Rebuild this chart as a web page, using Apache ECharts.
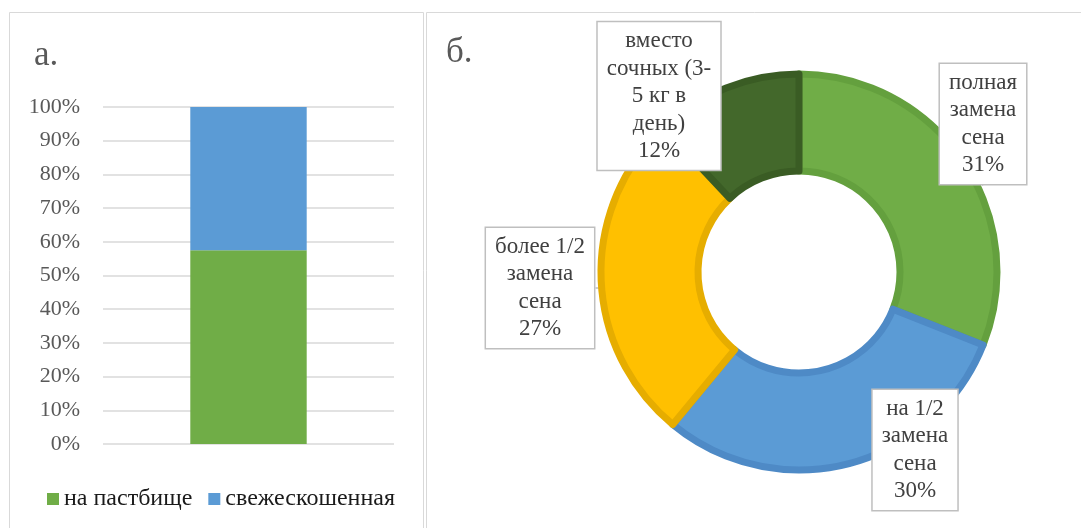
<!DOCTYPE html>
<html>
<head>
<meta charset="utf-8">
<script src="https://cdn.jsdelivr.net/npm/echarts@6/dist/echarts.min.js"></script>
<style>
  html, body { margin: 0; padding: 0; background: #fff; }
  #main { width: 1081px; height: 528px; }
</style>
</head>
<body>
<div id="main"></div>
<script>
// а. — где скашивают / пасут (100% столбец)
var barCategories = [''];
var pastureValues = [57.5];
var freshCutValues = [42.5];
var yTicks = { min: 0, max: 100, interval: 10 };

// б. — доля замены сена
var pieNames = [
  'полная\nзамена\nсена',
  'на 1/2\nзамена\nсена',
  'более 1/2\nзамена\nсена',
  'вместо\nсочных (3-\n5 кг в\nдень)'
];
var pieValues = [31, 30, 27, 12];

var serif = "'Liberation Serif', 'Times New Roman', serif";
var pieColors = ['#70AD47', '#5B9BD5', '#FFC000', '#43682B'];
var pieBorders = ['#64A03E', '#4E8AC6', '#E6AD00', '#3A5C24'];
// центры выносок меток (в пикселях)
var calloutPos = [[983, 124], [915, 450], [540, 288], [659, 96]];

var myChart = echarts.init(document.getElementById('main'));
var option = {
  animation: false,
  backgroundColor: '#fff',
  textStyle: { fontFamily: serif },
  graphic: [
    { type: 'rect', shape: { x: 9.5, y: 12.5, width: 414, height: 530 },
      style: { fill: 'none', stroke: '#D9D9D9', lineWidth: 1 } },
    { type: 'rect', shape: { x: 426.5, y: 12.5, width: 660, height: 530 },
      style: { fill: 'none', stroke: '#D9D9D9', lineWidth: 1 } }
  ],
  title: [
    { text: 'а.', left: 29, top: 33,
      textStyle: { fontFamily: serif, fontSize: 35, fontWeight: 'normal', color: '#595959' } },
    { text: 'б.', left: 441, top: 30,
      textStyle: { fontFamily: serif, fontSize: 35, fontWeight: 'normal', color: '#595959' } }
  ],
  legend: {
    data: ['на пастбище', 'свежескошенная'],
    left: 42,
    top: 482,
    itemWidth: 12,
    itemHeight: 12,
    itemGap: 16,
    icon: 'rect',
    textStyle: { fontFamily: serif, fontSize: 24, color: '#1a1a1a' }
  },
  grid: { left: 103, right: 687, top: 107, bottom: 84 },
  xAxis: {
    type: 'category',
    data: barCategories,
    axisLine: { show: false },
    axisTick: { show: false },
    axisLabel: { show: false }
  },
  yAxis: {
    type: 'value',
    min: yTicks.min,
    max: yTicks.max,
    interval: yTicks.interval,
    axisLine: { show: false },
    axisTick: { show: false },
    axisLabel: { formatter: '{value}%', margin: 23, fontFamily: serif, fontSize: 22, color: '#595959' },
    splitLine: { lineStyle: { color: '#D9D9D9', width: 1.5 } }
  },
  series: [
    {
      name: 'на пастбище',
      type: 'bar',
      stack: 'total',
      barWidth: '40%',
      itemStyle: { color: '#70AD47' },
      data: pastureValues
    },
    {
      name: 'свежескошенная',
      type: 'bar',
      stack: 'total',
      barWidth: '40%',
      itemStyle: { color: '#5B9BD5' },
      data: freshCutValues
    },
    {
      name: 'замена',
      type: 'pie',
      center: [799, 272],
      radius: [101, 198],
      startAngle: 90,
      clockwise: true,
      avoidLabelOverlap: false,
      data: pieNames.map(function (n, i) {
        return {
          name: n,
          value: pieValues[i],
          itemStyle: { color: pieColors[i], borderColor: pieBorders[i], borderWidth: 7 }
        };
      }),
      label: {
        show: true,
        position: 'outside',
        formatter: '{b}\n{d}%',
        fontFamily: serif,
        fontSize: 23,
        lineHeight: 27.5,
        color: '#404040',
        align: 'center',
        backgroundColor: '#fff',
        borderColor: '#BFBFBF',
        borderWidth: 1.5,
        padding: [5, 9]
      },
      labelLine: {
        show: true,
        length: 10,
        length2: 10,
        lineStyle: { color: '#BFBFBF', width: 1.5 }
      },
      labelLayout: function (params) {
        var p = calloutPos[params.dataIndex];
        return { x: p[0], y: p[1], align: 'center', verticalAlign: 'middle' };
      },
      emphasis: { disabled: true }
    }
  ]
};
option && myChart.setOption(option);
</script>
</body>
</html>
